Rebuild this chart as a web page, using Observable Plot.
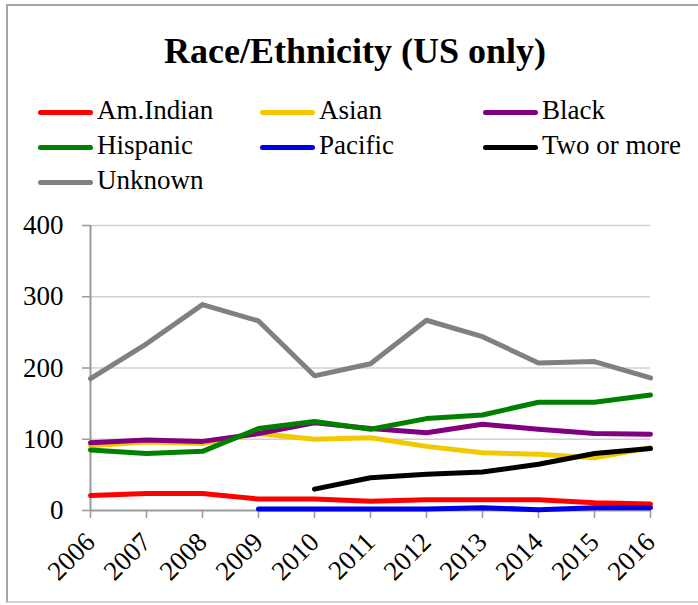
<!DOCTYPE html>
<html>
<head>
<meta charset="utf-8">
<script src="https://cdn.jsdelivr.net/npm/d3@7"></script>
<script src="https://cdn.jsdelivr.net/npm/@observablehq/plot@0.6"></script>
<style>
  html, body { margin: 0; padding: 0; background: #fff; }
  body { width: 698px; height: 605px; position: relative; overflow: hidden; font-family: "Liberation Serif", serif; }
  #frame { position: absolute; left: 6px; top: 4px; width: 720px; height: 599px; border: 2px solid #a6a6a6; border-bottom-color: #d4d4d4; border-right: none; box-sizing: border-box; }
  #title { position: absolute; left: 6px; top: 33px; width: 698px; text-align: center; font-size: 36px; line-height: 36px; font-weight: bold; color: #000; }
  .item { position: absolute; font-size: 27px; line-height: 27px; color: #000; white-space: nowrap; }
  .swatch { position: absolute; height: 5px; width: 55px; border-radius: 3px; }
  #chart { position: absolute; left: 0; top: 200px; }
</style>
</head>
<body>
<div id="frame"></div>
<div id="title">Race/Ethnicity (US only)</div>
<div id="legend"></div>
<div id="chart"></div>
<script>
// Enrolment by race/ethnicity, 2006–2016
const years = [2006, 2007, 2008, 2009, 2010, 2011, 2012, 2013, 2014, 2015, 2016];
const amIndian  = [21, 24, 24, 16, 16, 13, 15, 15, 15, 11, 9];
const asian     = [91, 96, 94, 108, 100, 102, 90, 81, 79, 74, 88];
const black     = [95, 99, 97, 108, 123, 115, 109, 121, 114, 108, 107];
const hispanic  = [85, 80, 83, 115, 125, 114, 129, 134, 152, 152, 162];
const pacific   = [null, null, null, 2, 2, 2, 2, 4, 1, 4, 4];
const twoOrMore = [null, null, null, null, 30, 46, 51, 54, 65, 80, 87];
const unknown   = [185, 234, 289, 266, 189, 206, 267, 244, 207, 209, 186];
const yTicks = [0, 100, 200, 300, 400];

const seriesNames  = ["Am.Indian", "Asian", "Black", "Hispanic", "Pacific", "Two or more", "Unknown"];
const seriesValues = [amIndian, asian, black, hispanic, pacific, twoOrMore, unknown];
const seriesColors = ["#ff0000", "#f2c900", "#800080", "#008000", "#0000e6", "#000000", "#808080"];

// Legend: three columns, drawn in series order
const legend = document.getElementById("legend");
const colX = [38, 260, 483];
const rowY = [112, 147, 182];
seriesNames.forEach((name, i) => {
  const cx = colX[i % 3], cy = rowY[Math.floor(i / 3)];
  const sw = document.createElement("div");
  sw.className = "swatch";
  sw.style.left = cx + "px";
  sw.style.top = (cy - 2.5) + "px";
  sw.style.background = seriesColors[i];
  legend.appendChild(sw);
  const t = document.createElement("div");
  t.className = "item";
  t.style.left = (cx + 59) + "px";
  t.style.top = (cy + 8 - 22.6) + "px";
  t.textContent = name;
  legend.appendChild(t);
});

const marks = [
  Plot.gridY(yTicks.filter(d => d > 0), {stroke: "#d0d0d0", strokeOpacity: 1, strokeWidth: 1.5}),
  Plot.axisY(yTicks, {tickSize: 8, tickPadding: 19, stroke: "#9a9a9a", strokeWidth: 1.5, fontSize: 27, label: null}),
  Plot.axisX(years, {tickSize: 8, tickPadding: 19, tickRotate: -45, tickFormat: d => String(d), stroke: "#9a9a9a", strokeWidth: 1.5, fontSize: 27, label: null}),
  Plot.ruleX([years[0]], {y1: 0, y2: 400, stroke: "#9a9a9a", strokeWidth: 2}),
  Plot.ruleY([0], {stroke: "#9a9a9a", strokeWidth: 2})
];
seriesValues.forEach((vals, i) => {
  marks.push(Plot.line(years, {
    x: d => d,
    y: vals,
    stroke: seriesColors[i],
    strokeWidth: 5,
    strokeLinecap: "round",
    strokeLinejoin: "round"
  }));
});

const chart = Plot.plot({
  width: 698,
  height: 400,
  marginTop: 25,
  marginBottom: 90,
  marginLeft: 90,
  marginRight: 48,
  style: {fontFamily: "Liberation Serif, serif", fontSize: "27px", color: "#000", background: "transparent"},
  x: {type: "linear", domain: [2006, 2016]},
  y: {domain: [0, 400]},
  marks
});
document.getElementById("chart").appendChild(chart);
</script>
</body>
</html>
